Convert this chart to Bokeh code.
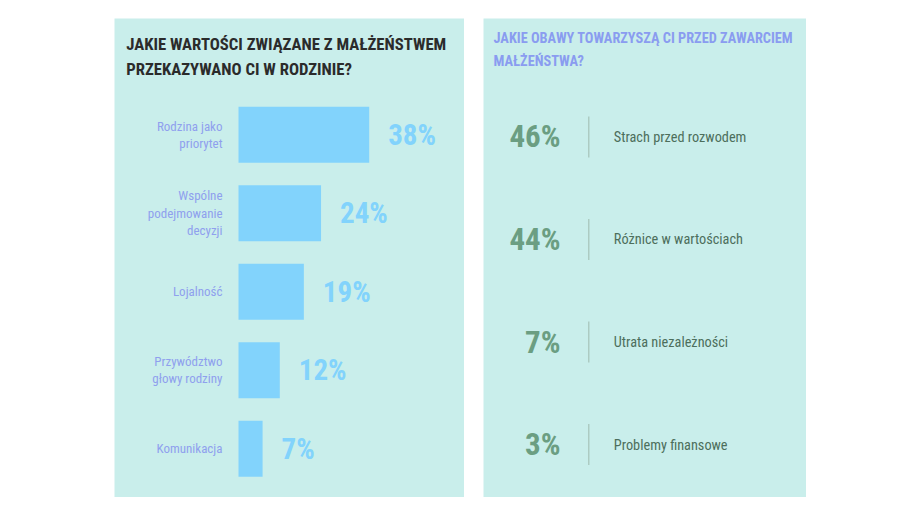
from bokeh.plotting import figure
from bokeh.models import Range1d, Label, ColumnDataSource, Spacer
from bokeh.layouts import row, column
from bokeh.core.properties import value
from bokeh.embed import file_html
from bokeh.resources import INLINE

# ---- data ----
categories = ["Rodzina jako\npriorytet", "Wspólne\npodejmowanie\ndecyzji", "Lojalność",
              "Przywództwo\ngłowy rodziny", "Komunikacja"]
values = [38, 24, 19, 12, 7]
fears = ["Strach przed rozwodem", "Różnice w wartościach", "Utrata niezależności", "Problemy finansowe"]
fear_values = [46, 44, 7, 3]
title_left = ["JAKIE WARTOŚCI ZWIĄZANE Z MAŁŻEŃSTWEM", "PRZEKAZYWANO CI W RODZINIE?"]
title_right = ["JAKIE OBAWY TOWARZYSZĄ CI PRZED ZAWARCIEM", "MAŁŻEŃSTWA?"]

# ---- styles ----
FONT = "Roboto Condensed"
BG = "#c9eeeb"
BAR = "#82d3fc"
CAT_COL = "#8fa0ee"
TITLE_DARK = "#2b2b2b"
TITLE_BLUE = "#8a9cf0"
GREEN_NUM = "#6b9e82"
GREEN_TXT = "#4d6e5c"
LINE_COL = "#a6c2b8"


def base_fig(w, h, xr, yr):
    p = figure(width=w, height=h, x_range=xr, y_range=yr, output_backend="svg",
               toolbar_location=None, min_border=0, x_axis_location=None,
               y_axis_location=None, tools="")
    p.grid.visible = False
    p.outline_line_color = None
    p.background_fill_color = BG
    p.border_fill_color = BG
    return p


# ---- left panel ----
idx = list(range(len(categories)))
src = ColumnDataSource(dict(idx=idx, val=values, cat=categories,
                            lab=[f"{v}%" for v in values]))
p1 = base_fig(350, 479, Range1d(-36.05, 65.7), Range1d(4.62, -1.48))
p1.hbar(y="idx", left=0, right="val", height=0.713, source=src,
        fill_color=BAR, line_color=None)
p1.text(x=0, y="idx", text="cat", source=src, x_offset=-16, text_align="right",
        text_baseline="middle", text_font=value(FONT), text_font_size="13px",
        text_color=CAT_COL, text_line_height=1.15)
p1.text(x="val", y="idx", text="lab", source=src, x_offset=19, text_align="left",
        text_baseline="middle", text_font=value(FONT), text_font_size="29px",
        text_font_style="bold", text_color=BAR)
for t, yb in zip(title_left, [453, 428]):
    p1.add_layout(Label(x=11.7, y=yb, x_units="screen", y_units="screen", text=t,
                        text_font=FONT, text_font_size="16.7px", text_font_style="bold",
                        text_color=TITLE_DARK, text_baseline="alphabetic"))

# ---- right panel ----
fidx = list(range(len(fears)))
fsrc = ColumnDataSource(dict(idx=fidx, lab=fears, num=[f"{v}%" for v in fear_values],
                             y0=[i - 0.2 for i in fidx], y1=[i + 0.2 for i in fidx]))
p2 = base_fig(323, 479, Range1d(0, 323), Range1d(3.517, -1.156))
p2.text(x=77, y="idx", text="num", source=fsrc, text_align="right",
        text_baseline="middle", text_font=value(FONT), text_font_size="31px",
        text_font_style="bold", text_color=GREEN_NUM)
p2.segment(x0=105.3, x1=105.3, y0="y0", y1="y1", source=fsrc, line_color=LINE_COL,
           line_width=1.2)
p2.text(x=130.3, y="idx", text="lab", source=fsrc, text_align="left",
        text_baseline="middle", text_font=value(FONT), text_font_size="14.3px",
        text_color=GREEN_TXT)
for t, yb in zip(title_right, [459.5, 437]):
    p2.add_layout(Label(x=10, y=yb, x_units="screen", y_units="screen", text=t,
                        text_font=FONT, text_font_size="14.3px", text_font_style="bold",
                        text_color=TITLE_BLUE, text_baseline="alphabetic"))

layout = column(Spacer(height=18),
                row(Spacer(width=114), p1, Spacer(width=19), p2))

open("out.html", "w").write(file_html(layout, INLINE))
